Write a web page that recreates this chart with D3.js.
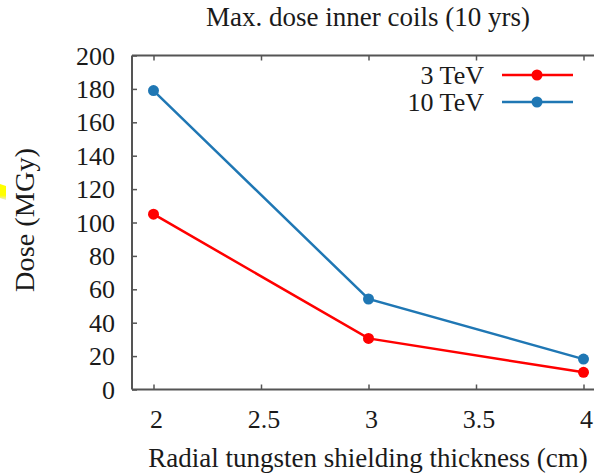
<!DOCTYPE html>
<html><head><meta charset="utf-8">
<script src="https://cdn.jsdelivr.net/npm/d3@7"></script>
<style>html,body{margin:0;padding:0;background:#fff;overflow:hidden} text{font-family:'Liberation Serif','DejaVu Serif',serif}</style>
</head><body>
<script>
const thickness = [2, 3, 4];
const dose3TeV = [105, 30.6, 10.3];
const dose10TeV = [179, 54.2, 18.2];
const seriesNames = ["3 TeV", "10 TeV"];
const seriesColors = ["#ff0000", "#1f77b4"];
const xTicks = [2, 2.5, 3, 3.5, 4];
const yTicks = [0, 20, 40, 60, 80, 100, 120, 140, 160, 180, 200];
const titleText = "Max. dose inner coils (10 yrs)";
const xLabel = "Radial tungsten shielding thickness (cm)";
const yLabel = "Dose (MGy)";

const W = 594, H = 474;
const svg = d3.select("body").append("svg").attr("width", W).attr("height", H);

const x = d3.scaleLinear().domain([1.9, 4.1]).range([132, 605]);
const y = d3.scaleLinear().domain([0, 200]).range([389.5, 55.5]);
const axisCol = "#555";
const txtCol = "#1a1a1a";

// yellow artifact at left edge
const g0 = svg.append("defs").append("linearGradient").attr("id","yg").attr("x1",0).attr("y1",0).attr("x2",0).attr("y2",1);
g0.append("stop").attr("offset","0%").attr("stop-color","#ffff00");
g0.append("stop").attr("offset","70%").attr("stop-color","#ffff00");
g0.append("stop").attr("offset","100%").attr("stop-color","#e8e8e0");
svg.append("path").attr("d","M0,184 L6,186 L6,200 L0,198 Z").attr("fill","url(#yg)");

// frame lines
svg.append("line").attr("x1",132).attr("x2",W).attr("y1",y(200)).attr("y2",y(200)).attr("stroke",axisCol).attr("stroke-width",2);
svg.append("line").attr("x1",132).attr("x2",W).attr("y1",y(0)).attr("y2",y(0)).attr("stroke",axisCol).attr("stroke-width",2);
svg.append("line").attr("x1",132).attr("x2",132).attr("y1",y(0)).attr("y2",y(200)).attr("stroke",axisCol).attr("stroke-width",2);

// y axis
const yAx = svg.append("g").attr("transform","translate(132,0)")
  .call(d3.axisRight(y).tickValues(yTicks).tickSize(5).tickFormat(""));
yAx.select(".domain").remove();
yAx.selectAll(".tick line").attr("stroke",axisCol).attr("stroke-width",1.5);
svg.append("g").selectAll("text").data(yTicks).join("text")
  .attr("x",115).attr("y",d=>y(d)).attr("dy","0.35em").attr("text-anchor","end")
  .attr("font-size",26).attr("fill",txtCol).text(d=>d);

// x axis ticks bottom and top
const xAxB = svg.append("g").attr("transform",`translate(0,${y(0)})`)
  .call(d3.axisTop(x).tickValues(xTicks).tickSize(5).tickFormat(""));
xAxB.select(".domain").remove();
xAxB.selectAll(".tick line").attr("stroke",axisCol).attr("stroke-width",1.5);
const xAxT = svg.append("g").attr("transform",`translate(0,${y(200)})`)
  .call(d3.axisBottom(x).tickValues(xTicks).tickSize(5).tickFormat(""));
xAxT.select(".domain").remove();
xAxT.selectAll(".tick line").attr("stroke",axisCol).attr("stroke-width",1.5);
svg.append("g").selectAll("text").data(xTicks).join("text")
  .attr("x",d=>x(d)+3).attr("y",428).attr("text-anchor","middle")
  .attr("font-size",26).attr("fill",txtCol).text(d=>d);

// titles
function fit(sel, w){ const l = sel.node().getComputedTextLength(); const fs = +sel.attr("font-size"); sel.attr("font-size", fs*w/l); }
const t = svg.append("text").attr("x",368).attr("y",26).attr("text-anchor","middle").attr("font-size",21).attr("fill",txtCol).text(titleText);
fit(t, 324);
const xl = svg.append("text").attr("x",368).attr("y",467).attr("text-anchor","middle").attr("font-size",24).attr("fill",txtCol).text(xLabel);
fit(xl, 440);
const yl = svg.append("text").attr("transform","translate(34,220) rotate(-90)").attr("text-anchor","middle").attr("font-size",24).attr("fill",txtCol).text(yLabel);
fit(yl, 144);

// series
const series = [dose3TeV, dose10TeV];
const line = d3.line().x((d,i)=>x(thickness[i])).y(d=>y(d));
series.forEach((s,k)=>{
  svg.append("path").datum(s).attr("d",line).attr("fill","none").attr("stroke",seriesColors[k]).attr("stroke-width",2.5);
  svg.append("g").selectAll("circle").data(s).join("circle")
    .attr("cx",(d,i)=>x(thickness[i])).attr("cy",d=>y(d)).attr("r",5.5).attr("fill",seriesColors[k]);
});

// legend
const legY = [75, 102];
seriesNames.forEach((n,k)=>{
  const lt = svg.append("text").attr("x",484).attr("y",legY[k]).attr("dy","0.35em").attr("text-anchor","end")
    .attr("font-size",26).attr("fill",txtCol).text(n);
  svg.append("line").attr("x1",502).attr("x2",573).attr("y1",legY[k]).attr("y2",legY[k]).attr("stroke",seriesColors[k]).attr("stroke-width",2.5);
  svg.append("circle").attr("cx",537).attr("cy",legY[k]).attr("r",5.5).attr("fill",seriesColors[k]);
});
</script>
</body></html>
